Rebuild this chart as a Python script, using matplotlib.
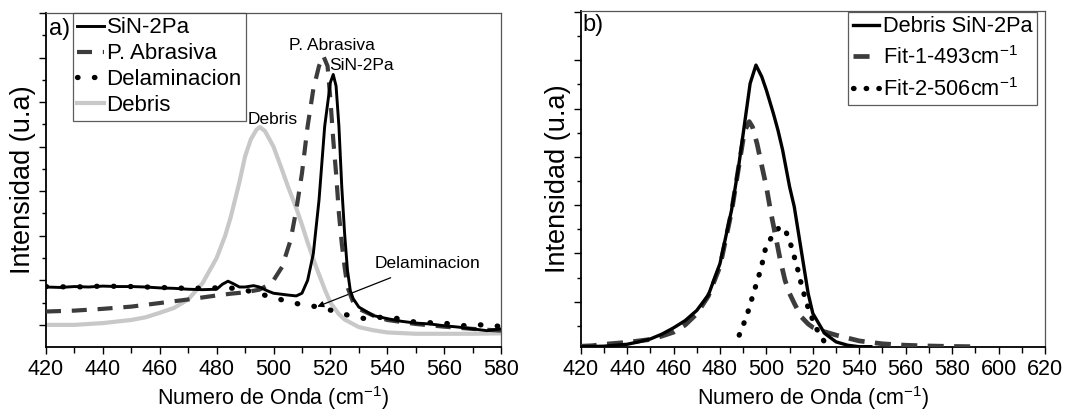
import matplotlib
matplotlib.use("Agg")
import matplotlib.pyplot as plt
from matplotlib import font_manager
from matplotlib.ticker import MultipleLocator, FixedLocator, NullFormatter


def pick_font(names):
    for n in names:
        try:
            font_manager.findfont(n, fallback_to_default=False)
            return n
        except Exception:
            continue
    return "DejaVu Sans"


FONT = pick_font(["Liberation Sans Narrow", "Arial Narrow", "Liberation Sans", "DejaVu Sans"])
NARROW = FONT in ("Liberation Sans Narrow", "Arial Narrow")
plt.rcParams["font.family"] = [FONT, "DejaVu Sans"]
plt.rcParams["mathtext.fontset"] = "custom"
plt.rcParams["mathtext.rm"] = FONT
plt.rcParams["mathtext.it"] = FONT
plt.rcParams["mathtext.bf"] = FONT

# ---------------- panel a) Raman spectra ----------------
sin_x = [420, 425, 430, 435, 440, 445, 450, 455, 460, 465, 470, 475, 480, 482, 484,
         486, 488, 490, 493, 495, 498, 500, 505, 508, 510, 512, 514, 516, 518, 520,
         521, 522, 523, 524, 525, 526, 527, 528, 530, 535, 540, 545, 550, 555, 560,
         565, 570, 575, 580]
sin_y = [0.85, 0.84, 0.86, 0.85, 0.87, 0.86, 0.86, 0.85, 0.83, 0.82, 0.80, 0.79, 0.80,
         0.91, 0.98, 0.92, 0.85, 0.85, 0.88, 0.85, 0.76, 0.71, 0.67, 0.65, 0.71, 1.00,
         1.60, 2.80, 4.46, 5.44, 5.62, 5.36, 4.46, 3.10, 2.05, 1.23, 0.77, 0.59, 0.40,
         0.21, 0.14, 0.08, 0.04, 0.02, -0.02, -0.05, -0.09, -0.13, -0.09]

abr_x = [420, 430, 440, 450, 460, 470, 480, 485, 490, 495, 498, 500, 503, 506, 508,
         510, 512, 514, 516, 517.5, 519, 520, 521, 522, 523, 524, 525, 526, 528, 530,
         535, 540, 550, 560, 570, 580]
abr_y = [0.30, 0.32, 0.36, 0.41, 0.49, 0.57, 0.66, 0.70, 0.73, 0.79, 0.89, 1.00, 1.30,
         1.90, 2.58, 3.40, 4.46, 5.29, 5.81, 6.04, 5.81, 5.06, 4.16, 3.40, 2.50, 1.83,
         1.30, 0.85, 0.51, 0.36, 0.21, 0.11, 0.02, -0.04, -0.09, -0.13]

dela_x = [420, 430, 440, 450, 460, 470, 480, 488, 494, 498, 503, 510, 515, 522, 527,
          533, 537, 543, 549, 554, 560, 566, 572, 576, 580]
dela_y = [0.86, 0.85, 0.87, 0.86, 0.84, 0.82, 0.83, 0.82, 0.71, 0.65, 0.56, 0.45, 0.41,
          0.30, 0.20, 0.13, 0.17, 0.15, 0.07, 0.05, 0.04, -0.02, 0.00, 0.00, -0.04]

deb_x = [420, 430, 440, 450, 455, 460, 465, 470, 475, 480, 483, 485, 488, 490, 492,
         494, 495.2, 497, 500, 503, 505, 508, 510, 512, 515, 518, 520, 523, 525, 530,
         535, 540, 550, 560, 570, 580]
deb_y = [0.00, 0.00, 0.04, 0.11, 0.17, 0.27, 0.38, 0.57, 0.93, 1.50, 2.00, 2.43, 3.20,
         3.78, 4.16, 4.38, 4.44, 4.35, 4.00, 3.48, 3.12, 2.62, 2.25, 1.85, 1.30, 0.80,
         0.50, 0.24, 0.12, -0.05, -0.12, -0.17, -0.20, -0.20, -0.20, -0.19]

labels_a = ["SiN-2Pa", "P. Abrasiva", "Delaminacion", "Debris"]

# ---------------- panel b) peak fit of the debris spectrum ----------------
dsp_x = [420, 430, 440, 445, 450, 455, 460, 465, 470, 475, 480, 485, 488, 490, 493,
         495.5, 498, 500, 503, 505, 507, 510, 512, 513, 515, 518, 520, 525, 530, 535,
         540, 545]
dsp_y = [0.00, 0.01, 0.05, 0.10, 0.16, 0.26, 0.39, 0.54, 0.75, 1.07, 1.72, 2.83, 3.72,
         4.41, 5.45, 5.83, 5.59, 5.31, 4.83, 4.48, 4.07, 3.31, 2.90, 2.60, 2.00, 1.10,
         0.69, 0.28, 0.10, 0.03, 0.00, 0.00]

fit1_x = [420, 425, 430, 435, 440, 445, 450, 455, 460, 465, 470, 475, 480, 485, 488,
          490, 491, 492.6, 494, 496, 498, 500, 502, 504, 506, 508, 510, 512, 515, 518,
          520, 525, 530, 540, 550, 560, 570, 580, 590]
fit1_y = [0.01, 0.02, 0.05, 0.07, 0.09, 0.12, 0.15, 0.22, 0.30, 0.45, 0.68, 1.05, 1.66,
          2.80, 3.70, 4.30, 4.50, 4.66, 4.55, 4.20, 3.75, 3.31, 2.76, 2.28, 1.79, 1.38,
          1.10, 0.90, 0.62, 0.47, 0.40, 0.31, 0.24, 0.12, 0.06, 0.03, 0.015, 0.005, 0.0]

fit2_x = [488.3, 491.5, 494.1, 497.7, 499.6, 502, 504, 506, 508, 510.8, 513.2, 515.1,
          517.3, 521, 525]
fit2_y = [0.24, 0.63, 1.05, 1.62, 2.03, 2.25, 2.40, 2.48, 2.44, 2.07, 1.66, 1.28,
          0.90, 0.42, 0.10]

labels_b = ["Debris SiN-2Pa", r"Fit-1-493cm$^{\mathregular{-1}}$",
            r"Fit-2-506cm$^{\mathregular{-1}}$"]

XLABEL = r"Numero de Onda (cm$^{\mathregular{-1}}$)"
YLABEL = "Intensidad (u.a)"

DARK = "#3c3c3c"
LIGHT = "#c8c8c8"

# horizontal text sizes (a narrow face can be set larger for the same width)
k = 1.2 if NARROW else 1.0
TICK_FS = 15.5 * k
XLAB_FS = 15.5 * k
LEG_FS = 16.0 * k
ANN_FS = 12.5 * k
TAG_FS = 17

fig = plt.figure(figsize=(10.69, 4.12), dpi=100)
ax_a = fig.add_axes([0.0430, 0.1585, 0.4257, 0.8099])
ax_b = fig.add_axes([0.5432, 0.1585, 0.4343, 0.8148])


def style_axes(ax, ylabelpad):
    for side in ("left", "bottom"):
        ax.spines[side].set_linewidth(1.3)
        ax.spines[side].set_color("black")
    for side in ("top", "right"):
        ax.spines[side].set_linewidth(0.9)
        ax.spines[side].set_color("#555555")
    ax.tick_params(axis="both", which="both", direction="out", top=False, right=False,
                   width=1.0, color="black")
    ax.tick_params(axis="x", which="major", length=5, labelsize=TICK_FS, pad=3.5)
    ax.tick_params(axis="x", which="minor", length=4)
    ax.tick_params(axis="y", which="major", length=5, labelleft=False)
    ax.tick_params(axis="y", which="minor", length=3)
    ax.xaxis.set_minor_locator(MultipleLocator(10))
    ax.xaxis.set_major_locator(MultipleLocator(20))
    ax.yaxis.set_minor_formatter(NullFormatter())
    ax.set_xlabel(XLABEL, fontsize=XLAB_FS, labelpad=3)
    ax.set_ylabel(YLABEL, fontsize=19.5, labelpad=ylabelpad)


# panel a
ax_a.plot(sin_x, sin_y, color="black", lw=2.1, label=labels_a[0], zorder=5)
ax_a.plot(abr_x, abr_y, color=DARK, lw=3.0, dashes=(3.6, 2.6), label=labels_a[1], zorder=4)
ax_a.plot(dela_x, dela_y, color="black", lw=3.8, dashes=(0.1, 3.1),
          dash_capstyle="round", label=labels_a[2], zorder=3)
ax_a.plot(deb_x, deb_y, color=LIGHT, lw=3.0, label=labels_a[3], zorder=2)
ax_a.set_xlim(420, 580)
ax_a.set_ylim(-0.49, 7.0)
ax_a.yaxis.set_major_locator(MultipleLocator(1))
ax_a.yaxis.set_minor_locator(FixedLocator([0.5 + i for i in range(7)]))
style_axes(ax_a, 0.5)

ax_a.text(0.006, 0.985, "a)", transform=ax_a.transAxes, ha="left", va="top", fontsize=TAG_FS)
ax_a.text(499.6, 4.6, "Debris", ha="center", va="center", fontsize=ANN_FS)
ax_a.text(520.5, 6.27, "P. Abrasiva", ha="center", va="center", fontsize=ANN_FS)
ax_a.text(531.0, 5.82, "SiN-2Pa", ha="center", va="center", fontsize=ANN_FS)
ax_a.annotate("Delaminacion", xy=(515.4, 0.41), xytext=(554.0, 1.38),
              ha="center", va="center", fontsize=ANN_FS,
              arrowprops=dict(arrowstyle="-|>", color="black", lw=0.9,
                              mutation_scale=9, shrinkA=8, shrinkB=0))

leg_a = ax_a.legend(loc="upper left", bbox_to_anchor=(0.059, 1.0), borderaxespad=0,
                    fontsize=LEG_FS, handlelength=1.2, handletextpad=0.12,
                    labelspacing=0.22, borderpad=0.2, frameon=True, fancybox=False)
leg_a.get_frame().set_edgecolor("#333333")
leg_a.get_frame().set_linewidth(0.9)

# panel b
ax_b.plot(dsp_x, dsp_y, color="black", lw=2.4, label=labels_b[0], zorder=5)
ax_b.plot(fit1_x, fit1_y, color=DARK, lw=3.4, dashes=(3.4, 2.2), label=labels_b[1], zorder=4)
ax_b.plot(fit2_x, fit2_y, color="black", lw=3.8, dashes=(0.1, 2.3),
          dash_capstyle="round", label=labels_b[2], zorder=3)
ax_b.set_xlim(420, 620)
ax_b.set_ylim(0, 6.95)
ax_b.yaxis.set_major_locator(FixedLocator([0.93 + i for i in range(7)]))
ax_b.yaxis.set_minor_locator(FixedLocator([0.43 + i for i in range(7)]))
style_axes(ax_b, 0.5)

ax_b.text(0.004, 0.99, "b)", transform=ax_b.transAxes, ha="left", va="top", fontsize=TAG_FS)

leg_b = ax_b.legend(loc="upper right", bbox_to_anchor=(0.9834, 0.997), borderaxespad=0,
                    fontsize=LEG_FS * 0.98, handlelength=1.2, handletextpad=0.2,
                    labelspacing=0.4, borderpad=0.2, frameon=True, fancybox=False)
leg_b.get_frame().set_edgecolor("#333333")
leg_b.get_frame().set_linewidth(0.9)

fig.savefig("out.png", dpi=100)
